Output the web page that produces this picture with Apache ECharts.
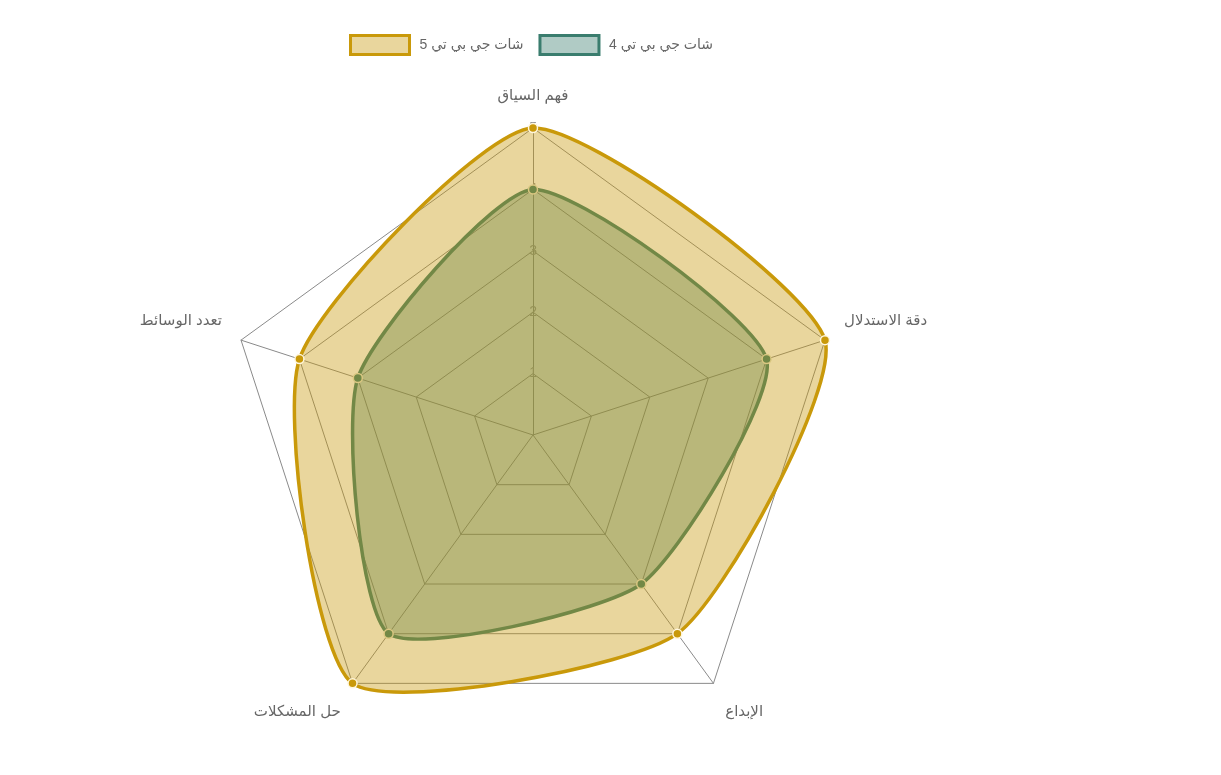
<!DOCTYPE html>
<html>
<head>
<meta charset="utf-8">
<script src="https://cdn.jsdelivr.net/npm/echarts@6/dist/echarts.min.js"></script>
<style>
	html, body { margin: 0; padding: 0; background: #fff; }
	#main { width: 1221px; height: 775px; }
</style>
</head>
<body>
<div id="main"></div>
<script>
// محاور الرادار (بترتيب عكس عقارب الساعة بدءا من الأعلى)
var indicatorNames = ['فهم السياق', 'تعدد الوسائط', 'حل المشكلات', 'الإبداع', 'دقة الاستدلال'];
var maxValue = 5;
var seriesNames = ['شات جي بي تي 4', 'شات جي بي تي 5'];
var gpt4Values = [4, 3, 4, 3, 4];
var gpt5Values = [5, 4, 5, 4, 5];

var colorGpt4 = '#3a7d6e';
var colorGpt5 = '#c9990a';
var fillGpt4 = 'rgba(58,125,110,0.4)';
var fillGpt5 = 'rgba(201,153,10,0.4)';

var center = [533, 435];
var radius = 307;

// إزاحة أسماء المحاور (padding للنص) لتقارب موضعها في الأصل
var namePad = {
	0: [0, 0, 5, 0],
	1: [0, 0, 26, 0],
	2: [24, 0, 0, 0],
	3: [24, 0, 0, 0],
	4: [0, 0, 26, 0]
};

var indicators = indicatorNames.map(function (n, i) {
	var ind = { name: n, max: maxValue, min: 0 };
	if (i === 0) {
		ind.axisLabel = { show: true, showMinLabel: false };
	}
	return ind;
});

var rich = {};
indicatorNames.forEach(function (n, i) {
	rich['n' + i] = { color: '#666', fontSize: 15, padding: namePad[i] };
});

// [قيمة, زاوية] لكل نقطة
function toPoints(values) {
	return values.map(function (v, i) {
		return [v, i * 360 / values.length];
	});
}

function makeRender(values, lineColor, fillColor, dotBorder) {
	return function (params, api) {
		var children = [];
		if (params.dataIndex === 0) {
			var pts = toPoints(values).map(function (d) {
				return api.coord(d);
			});
			children.push({
				type: 'polygon',
				shape: { points: pts, smooth: 0.2 },
				style: { fill: fillColor, stroke: lineColor, lineWidth: 3.5 }
			});
		}
		var p = api.coord([api.value(0), api.value(1)]);
		children.push({
			type: 'circle',
			shape: { cx: p[0], cy: p[1], r: 4.5 },
			style: { fill: lineColor, stroke: dotBorder, lineWidth: 1.5 }
		});
		return { type: 'group', children: children };
	};
}

var option = {
	animation: false,
	textStyle: { fontFamily: 'Liberation Sans, DejaVu Sans, sans-serif' },
	legend: {
		top: 29,
		left: 344,
		icon: 'rect',
		itemWidth: 59,
		itemHeight: 19,
		itemGap: 15,
		textStyle: { color: '#666', fontSize: 14, padding: [0, 0, 0, 5] },
		data: [
			{ name: seriesNames[1], itemStyle: { color: fillGpt5, borderColor: colorGpt5, borderWidth: 3 } },
			{ name: seriesNames[0], itemStyle: { color: fillGpt4, borderColor: colorGpt4, borderWidth: 3 } }
		]
	},
	radar: {
		center: center,
		radius: radius,
		splitNumber: 5,
		indicator: indicators,
		axisName: {
			formatter: function (name, ind) {
				return '{n' + indicatorNames.indexOf(name) + '|' + name + '}';
			},
			rich: rich
		},
		nameGap: 20,
		splitArea: { show: false },
		splitLine: { lineStyle: { color: '#8a8a8a', width: 1 } },
		axisLine: { lineStyle: { color: '#8a8a8a', width: 1 } },
		axisTick: { show: false },
		axisLabel: { show: false, color: '#999', fontSize: 14, margin: -4 }
	},
	polar: { center: center, radius: radius },
	angleAxis: { type: 'value', min: 0, max: 360, startAngle: 90, clockwise: false, show: false },
	radiusAxis: { type: 'value', min: 0, max: maxValue, show: false },
	series: [{
		type: 'custom',
		name: seriesNames[0],
		coordinateSystem: 'polar',
		data: toPoints(gpt4Values),
		renderItem: makeRender(gpt4Values, colorGpt4, fillGpt4, '#e6e6d0')
	}, {
		type: 'custom',
		name: seriesNames[1],
		coordinateSystem: 'polar',
		data: toPoints(gpt5Values),
		renderItem: makeRender(gpt5Values, colorGpt5, fillGpt5, '#fff6dc')
	}]
};

var myChart = echarts.init(document.getElementById('main'));
myChart.setOption(option);
</script>
</body>
</html>
